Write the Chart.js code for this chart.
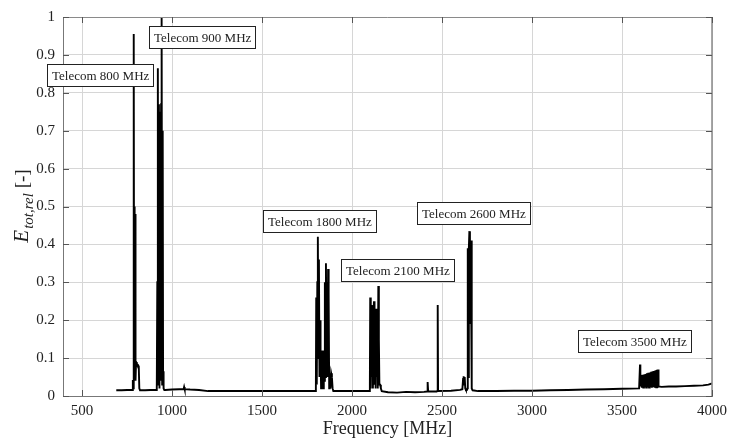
<!DOCTYPE html>
<html>
<head>
<meta charset="utf-8">
<script src="https://cdn.jsdelivr.net/npm/chart.js@4.4.1/dist/chart.umd.min.js"></script>
<style>
  html, body { margin: 0; padding: 0; background: #fff; }
  #wrap { width: 738px; height: 439px; }
</style>
</head>
<body>
<div id="wrap"><canvas id="spectrum_chart" width="738" height="439"></canvas></div>
<script>
"use strict";

// measured spectrum, frequency in MHz / relative total field
var freqMHz = [
    690, 720, 750, 780,                                                        // baseline
    782, 784, 787, 789, 791, 793, 795, 797, 800, 804, 810, 815, 818, 822,      // 800 band
    850, 880, 915,
    918, 921, 924, 927, 930, 933, 936, 939, 942, 945, 948, 950, 953, 957,      // 900 band
    962, 1000, 1040, 1064, 1067, 1070, 1100, 1150, 1200, 1300, 1400, 1500, 1600, 1700, 1795,
    1799, 1801, 1804, 1807, 1810, 1813, 1816, 1819, 1822, 1825,                // 1800 band
    1828, 1831, 1834, 1837, 1840, 1843, 1846, 1849, 1852, 1855,
    1858, 1861, 1864, 1867, 1870, 1873, 1876, 1880, 1884, 1888, 1892, 1896,
    1950, 2000, 2050, 2095,
    2099, 2101, 2104, 2107, 2110, 2113, 2116, 2119, 2122, 2125,                // 2100 band
    2128, 2131, 2134, 2137, 2140, 2143, 2146, 2149, 2152, 2156, 2160, 2165,
    2200, 2250, 2300, 2350, 2400, 2417, 2420, 2423, 2470, 2474, 2476, 2478,
    2550, 2600, 2613,
    2617, 2620, 2623, 2626, 2629, 2633, 2638, 2641, 2643, 2646,                // 2600 band
    2649, 2652, 2655, 2658, 2661, 2664, 2666, 2670,
    2700, 2800, 2900, 3000, 3100, 3200, 3300, 3400, 3500, 3595,
    3599, 3600, 3602, 3606, 3610, 3614, 3618, 3622, 3626, 3630,                // 3500 band
    3634, 3638, 3642, 3646, 3650, 3654, 3658, 3662, 3666, 3670,
    3674, 3678, 3682, 3686, 3690, 3694, 3698, 3700, 3703,
    3720, 3760, 3800, 3850, 3900, 3950, 3980, 4000
];
var eTotRel = [
    0.015, 0.015, 0.016, 0.016,
    0.042, 0.02, 0.955, 0.1, 0.5, 0.05, 0.48, 0.04, 0.09, 0.085, 0.082, 0.078, 0.02, 0.015,
    0.015, 0.016, 0.016,
    0.3, 0.865, 0.03, 0.77, 0.02, 0.75, 0.04, 0.77, 1.0, 0.03, 0.7, 0.065, 0.02, 0.016,
    0.016, 0.017, 0.018, 0.018, 0.024, 0.018, 0.017, 0.016, 0.013, 0.013, 0.013, 0.013, 0.013, 0.013, 0.013,
    0.02, 0.26, 0.03, 0.3, 0.42, 0.1, 0.36, 0.05, 0.2, 0.115,
    0.02, 0.12, 0.03, 0.12, 0.02, 0.12, 0.04, 0.3, 0.05, 0.35,
    0.1, 0.3, 0.05, 0.335, 0.27, 0.02, 0.06, 0.02, 0.06, 0.05, 0.02, 0.013,
    0.013, 0.013, 0.013, 0.013,
    0.03, 0.26, 0.02, 0.24, 0.05, 0.2, 0.02, 0.22, 0.25, 0.03,
    0.2, 0.02, 0.23, 0.05, 0.2, 0.02, 0.29, 0.15, 0.03, 0.03, 0.02, 0.013,
    0.01, 0.009, 0.011, 0.01, 0.011, 0.012, 0.037, 0.012, 0.012, 0.013, 0.24, 0.013,
    0.014, 0.016, 0.018,
    0.045, 0.052, 0.03, 0.05, 0.02, 0.016, 0.016, 0.02, 0.39, 0.05,
    0.39, 0.435, 0.19, 0.41, 0.3, 0.41, 0.02, 0.015,
    0.013, 0.013, 0.014, 0.014, 0.015, 0.016, 0.017, 0.018, 0.019, 0.02,
    0.02, 0.083, 0.025, 0.055, 0.022, 0.056, 0.022, 0.057, 0.023, 0.058,
    0.022, 0.06, 0.023, 0.061, 0.022, 0.062, 0.023, 0.064, 0.022, 0.065,
    0.023, 0.066, 0.022, 0.068, 0.023, 0.069, 0.022, 0.07, 0.025,
    0.024, 0.025, 0.025, 0.026, 0.027, 0.028, 0.03, 0.033
];
var xTicks = [500, 1000, 1500, 2000, 2500, 3000, 3500, 4000];
var yTicks = [0, 0.1, 0.2, 0.3, 0.4, 0.5, 0.6, 0.7, 0.8, 0.9, 1];
var bandLabels = ["Telecom 800 MHz", "Telecom 900 MHz", "Telecom 1800 MHz",
                  "Telecom 2100 MHz", "Telecom 2600 MHz", "Telecom 3500 MHz"];

if (freqMHz.length !== eTotRel.length) {
    console.error("length mismatch", freqMHz.length, eTotRel.length);
}

var points = freqMHz.map(function (f, i) { return {x: f, y: eTotRel[i]}; });

// label boxes: top-left corner in data units
var boxAnchors = [
    {x: 305, y: 0.875}, {x: 872, y: 0.977}, {x: 1506, y: 0.49},
    {x: 1939, y: 0.362}, {x: 2361, y: 0.513}, {x: 3256, y: 0.174}
];

var SERIF = '"Liberation Serif", "Times New Roman", serif';

var decorPlugin = {
    id: "decor",
    afterDatasetsDraw: function (chart) {
        var ctx = chart.ctx, a = chart.chartArea;
        var xs = chart.scales.x, ys = chart.scales.y;
        ctx.save();
        // top / right border
        ctx.strokeStyle = "#8a8a8a";
        ctx.lineWidth = 1;
        ctx.beginPath();
        ctx.moveTo(a.left, a.top + 0.5);
        ctx.lineTo(a.right, a.top + 0.5);
        ctx.stroke();
        ctx.lineWidth = 1.5;
        ctx.beginPath();
        ctx.moveTo(a.right, a.top);
        ctx.lineTo(a.right, a.bottom);
        ctx.stroke();
        // inward ticks
        ctx.strokeStyle = "#555";
        ctx.lineWidth = 1;
        ctx.beginPath();
        yTicks.forEach(function (v) {
            var py = Math.round(ys.getPixelForValue(v)) + 0.5;
            ctx.moveTo(a.left, py); ctx.lineTo(a.left + 6, py);
            ctx.moveTo(a.right, py); ctx.lineTo(a.right - 6, py);
        });
        xTicks.forEach(function (v) {
            var px = Math.round(xs.getPixelForValue(v)) + 0.5;
            ctx.moveTo(px, a.bottom); ctx.lineTo(px, a.bottom - 6);
            ctx.moveTo(px, a.top); ctx.lineTo(px, a.top + 6);
        });
        ctx.stroke();

        // label boxes
        ctx.font = "13px " + SERIF;
        ctx.textBaseline = "middle";
        ctx.textAlign = "left";
        bandLabels.forEach(function (txt, i) {
            var bx = Math.round(xs.getPixelForValue(boxAnchors[i].x)) + 0.5;
            var by = Math.round(ys.getPixelForValue(boxAnchors[i].y)) + 0.5;
            var w = Math.round(ctx.measureText(txt).width + 9);
            var h = 22;
            ctx.fillStyle = "#fff";
            ctx.fillRect(bx, by, w, h);
            ctx.strokeStyle = "#222";
            ctx.lineWidth = 1;
            ctx.strokeRect(bx, by, w, h);
            ctx.fillStyle = "#222";
            ctx.fillText(txt, bx + 4.5, by + h / 2 + 1);
        });

        // axis titles
        ctx.fillStyle = "#222";
        ctx.textAlign = "center";
        ctx.textBaseline = "alphabetic";
        ctx.font = "18px " + SERIF;
        ctx.fillText("Frequency [MHz]", (a.left + a.right) / 2, 434);

        ctx.translate(22, (a.top + a.bottom) / 2);
        ctx.rotate(-Math.PI / 2);
        ctx.textAlign = "left";
        var fE = "italic 21px " + SERIF, fS = "italic 15px " + SERIF, fB = "19px " + SERIF;
        ctx.font = fE; var wE = ctx.measureText("E").width;
        ctx.font = fS; var wS = ctx.measureText("tot,rel").width;
        ctx.font = fB; var wB = ctx.measureText(" [-]").width;
        var x0 = -(wE + wS + wB) / 2;
        ctx.font = fE; ctx.fillText("E", x0, 6);
        ctx.font = fS; ctx.fillText("tot,rel", x0 + wE + 1, 11);
        ctx.font = fB; ctx.fillText(" [-]", x0 + wE + wS + 1, 6);
        ctx.restore();
    }
};

var spectrumChart = new Chart(document.getElementById("spectrum_chart"), {
    type: "line",
    data: {
        datasets: [{
            data: points,
            borderColor: "#000",
            borderWidth: 1.9,
            pointRadius: 0,
            tension: 0,
            fill: false
        }]
    },
    options: {
        responsive: false,
        animation: false,
        layout: {padding: {left: 0, right: 26, top: 12, bottom: 0}},
        plugins: {legend: {display: false}, tooltip: {enabled: false}},
        scales: {
            x: {
                type: "linear",
                min: 394,
                max: 4000,
                afterBuildTicks: function (s) { s.ticks = xTicks.map(function (v) { return {value: v}; }); },
                afterFit: function (s) { s.height = 43; },
                ticks: {
                    autoSkip: false, maxRotation: 0, padding: 6, color: "#222",
                    font: {family: SERIF, size: 15},
                    callback: function (v) { return String(v); }
                },
                grid: {color: "#d6d6d6", drawTicks: false},
                border: {color: "#777", width: 1}
            },
            y: {
                min: 0,
                max: 1,
                afterBuildTicks: function (s) { s.ticks = yTicks.map(function (v) { return {value: v}; }); },
                afterFit: function (s) { s.width = 63; },
                ticks: {
                    padding: 8, color: "#222",
                    font: {family: SERIF, size: 15},
                    callback: function (v) { return String(v); }
                },
                grid: {color: "#d6d6d6", drawTicks: false},
                border: {color: "#777", width: 1}
            }
        }
    },
    plugins: [decorPlugin]
});
</script>
</body>
</html>
